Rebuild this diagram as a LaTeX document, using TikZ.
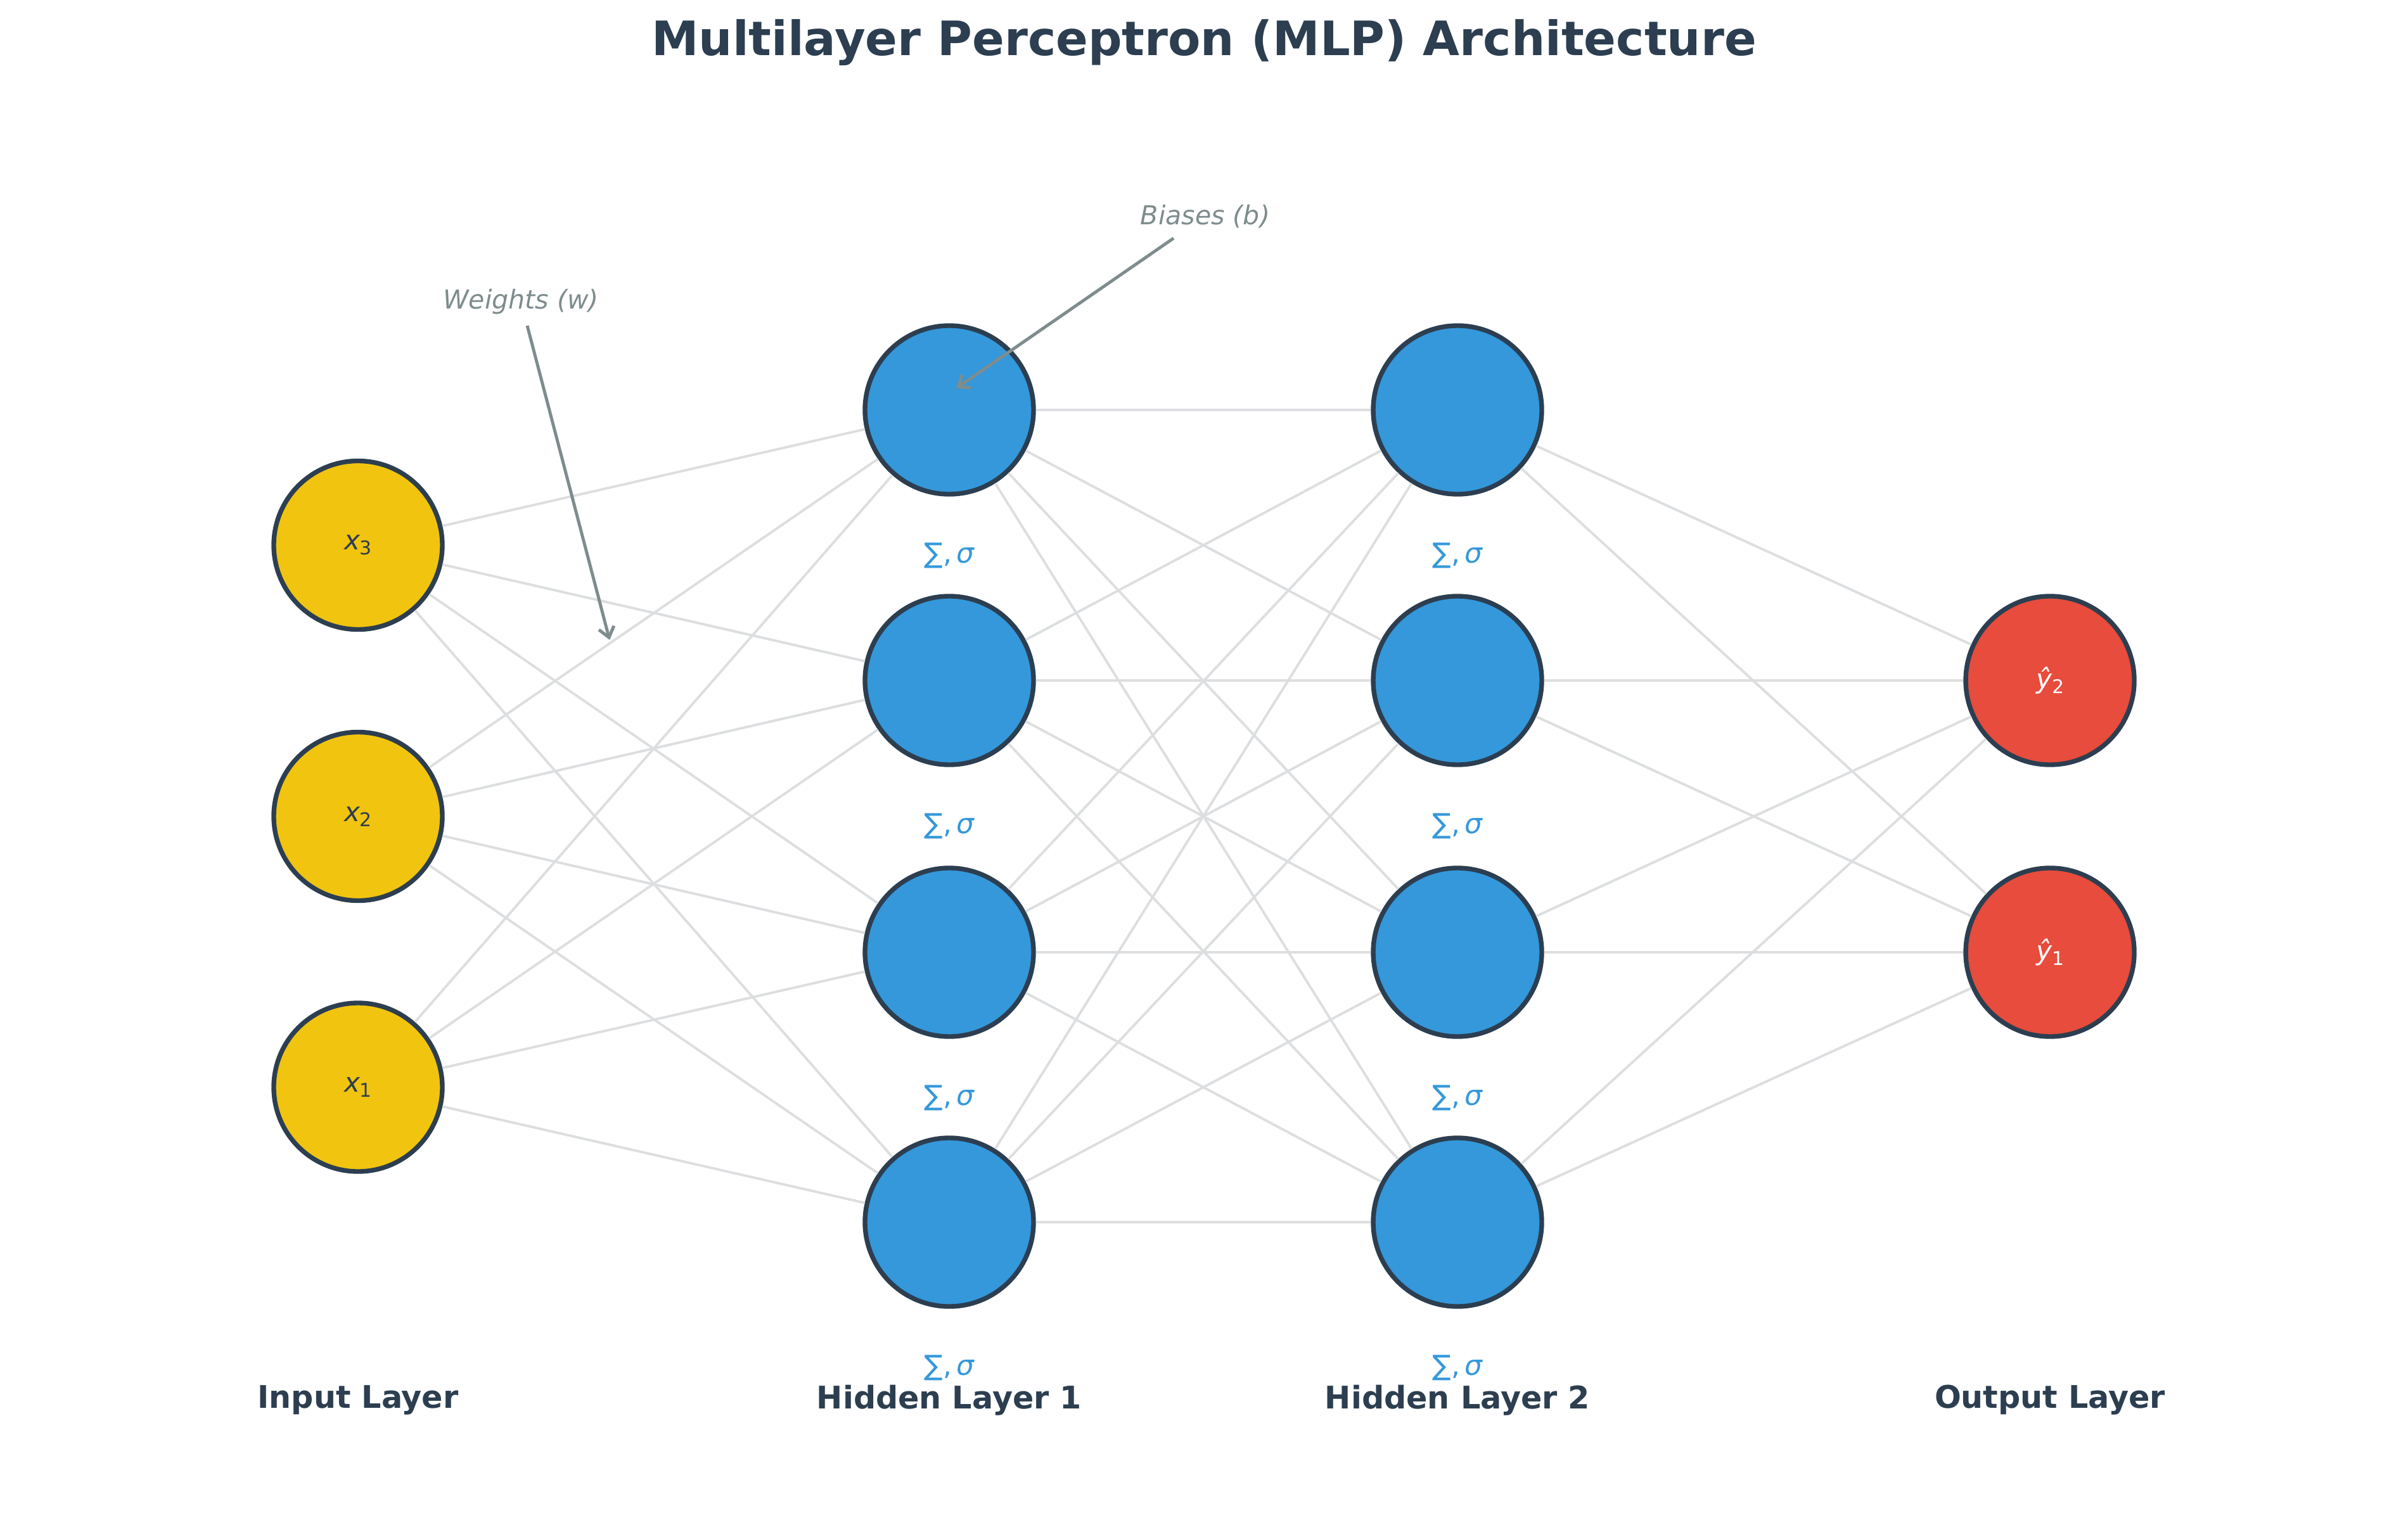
\documentclass[tikz,border=0pt]{standalone}
\usepackage{fontspec}
\setmainfont{DejaVu Sans}
\usetikzlibrary{arrows.meta}
\definecolor{dark}{HTML}{2C3E50}
\definecolor{inyel}{HTML}{F1C40F}
\definecolor{hidblue}{HTML}{3498DB}
\definecolor{outred}{HTML}{E74C3C}
\definecolor{edgegray}{HTML}{DCDEE0}
\definecolor{annot}{HTML}{7F8C8D}
\newcommand{\nlbl}[2]{\raisebox{-3pt}{{\itshape #1}\raisebox{-0.35ex}{\fontsize{8.5}{10}\selectfont #2}}}
\tikzset{
  neuron/.style={circle, minimum size=2.66cm, inner sep=0pt, line width=2.1pt, draw=dark,
    font=\fontsize{12}{14}\selectfont},
  innode/.style={neuron, fill=inyel, text=dark},
  hidnode/.style={neuron, fill=hidblue},
  outnode/.style={neuron, fill=outred, text=white},
  conn/.style={draw=edgegray, line width=1.1pt},
  sigmalbl/.style={text=hidblue, font=\fontsize{12.5}{14}\selectfont},
  layerlbl/.style={text=dark, font=\bfseries\fontsize{14}{16}\selectfont},
  annottext/.style={text=annot, font=\itshape\fontsize{11.7}{14}\selectfont},
  annotarrow/.style={draw=annot, line width=1.4pt, -{Straight Barb[length=4.5pt,width=7pt]}}
}
\begin{document}
\begin{tikzpicture}
\useasboundingbox (0,0) rectangle (38,-23.88);
% title
\node[text=dark, font=\bfseries\fontsize{21.3}{26}\selectfont] (title) at (19.0,-0.67) {Multilayer Perceptron (MLP) Architecture};
% input layer
\node[innode] (i1) at (5.65,-17.16) {\nlbl{x}{1}};
\node[innode] (i2) at (5.65,-12.885) {\nlbl{x}{2}};
\node[innode] (i3) at (5.65,-8.605) {\nlbl{x}{3}};
% hidden layers
\foreach \k/\y in {1/-6.47,2/-10.74,3/-15.03,4/-19.29}{
  \node[hidnode] (a\k) at (14.98,\y) {};
  \node[hidnode] (b\k) at (23.00,\y) {};
  \node[sigmalbl] (sa\k) at (14.98,\y-2.30) {∑,\,{\itshape σ}};
  \node[sigmalbl] (sb\k) at (23.00,\y-2.30) {∑,\,{\itshape σ}};
}
% output layer
\node[outnode] (o2) at (32.35,-10.74) {\nlbl{ŷ}{2}};
\node[outnode] (o1) at (32.35,-15.03) {\nlbl{ŷ}{1}};
% connections
\foreach \i in {1,2,3}{\foreach \j in {1,2,3,4}{\draw[conn] (i\i) -- (a\j);}}
\foreach \i in {1,2,3,4}{\foreach \j in {1,2,3,4}{\draw[conn] (a\i) -- (b\j);}}
\foreach \i in {1,2,3,4}{\foreach \j in {1,2}{\draw[conn] (b\i) -- (o\j);}}
% layer labels
\node[layerlbl] (l0) at (5.65,-22.10) {Input Layer};
\node[layerlbl] (l1) at (14.98,-22.10) {Hidden Layer 1};
\node[layerlbl] (l2) at (23.00,-22.10) {Hidden Layer 2};
\node[layerlbl] (l3) at (32.35,-22.10) {Output Layer};
% annotations
\node[annottext] (wt) at (8.22,-4.76) {Weights (w)};
\node[annottext] (bt) at (19.02,-3.42) {Biases (b)};
\coordinate (wtail) at (8.32,-5.14);
\coordinate (whead) at (9.62,-10.10);
\coordinate (btail) at (18.52,-3.76);
\coordinate (bhead) at (15.09,-6.13);
\draw[annotarrow] (wtail) -- (whead);
\draw[annotarrow] (btail) -- (bhead);
\end{tikzpicture}
\end{document}
